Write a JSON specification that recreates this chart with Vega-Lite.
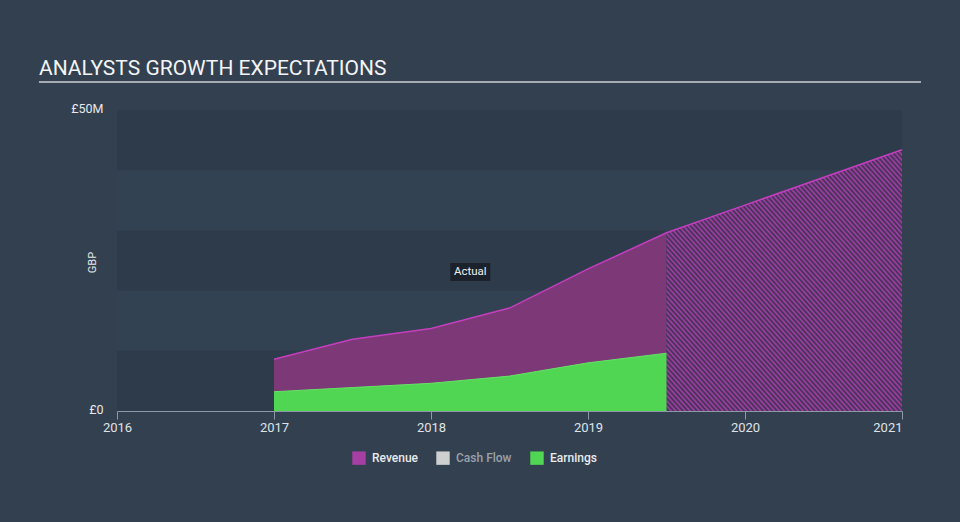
{
  "$schema": "https://vega.github.io/schema/vega-lite/v6.json",
  "width": 785,
  "height": 301,
  "autosize": "none",
  "padding": {"left": 117, "top": 110, "right": 58, "bottom": 111},
  "background": "#334050",
  "title": {
    "text": "ANALYSTS GROWTH EXPECTATIONS",
    "anchor": "start",
    "frame": "group",
    "dx": -78,
    "offset": -15,
    "baseline": "alphabetic",
    "font": "Roboto",
    "fontSize": 21,
    "fontWeight": "normal",
    "color": "#f2f4f6"
  },
  "config": {
    "font": "Roboto",
    "view": {"fill": "#2e3b4b", "stroke": null}
  },
  "datasets": {
    "fin": [
      {"year": 2017.0, "series": "Revenue", "phase": "actual", "value": 8.6},
      {"year": 2017.5, "series": "Revenue", "phase": "actual", "value": 11.9},
      {"year": 2018.0, "series": "Revenue", "phase": "actual", "value": 13.7},
      {"year": 2018.5, "series": "Revenue", "phase": "actual", "value": 17.1},
      {"year": 2019.0, "series": "Revenue", "phase": "actual", "value": 23.6},
      {"year": 2019.5, "series": "Revenue", "phase": "actual", "value": 29.6},
      {"year": 2019.5, "series": "Revenue", "phase": "forecast", "value": 29.6},
      {"year": 2020.0, "series": "Revenue", "phase": "forecast", "value": 34.2},
      {"year": 2021.0, "series": "Revenue", "phase": "forecast", "value": 43.4},
      {"year": 2017.0, "series": "Earnings", "phase": "actual", "value": 3.2},
      {"year": 2017.5, "series": "Earnings", "phase": "actual", "value": 3.9},
      {"year": 2018.0, "series": "Earnings", "phase": "actual", "value": 4.6},
      {"year": 2018.5, "series": "Earnings", "phase": "actual", "value": 5.8},
      {"year": 2019.0, "series": "Earnings", "phase": "actual", "value": 8.0},
      {"year": 2019.5, "series": "Earnings", "phase": "actual", "value": 9.6}
    ],
    "bands": [{"lo": 10, "hi": 20}, {"lo": 30, "hi": 40}],
    "notes": [{"label": "Actual", "year": 2018.25, "value": 23.1}]
  },
  "layer": [
    {
      "data": {"name": "bands"},
      "mark": {"type": "rect", "color": "#334252"},
      "encoding": {
        "y": {"field": "lo", "type": "quantitative", "scale": {"domain": [0, 50], "nice": false, "zero": true},
              "axis": {"title": "GBP", "values": [0, 50], "labelExpr": "datum.value == 0 ? '£0' : '£50M'", "domain": false, "ticks": false, "grid": false, "labelPadding": 14, "labelColor": "#e6e9ec", "labelFontSize": 12.5, "labelBaseline": "middle", "labelOffset": -2, "titleColor": "#e6e9ec", "titleFontSize": 11, "titleFontWeight": "normal", "titleX": -25, "titleY": 152, "titleAlign": "center", "titleBaseline": "middle", "titleAngle": -90}},
        "y2": {"field": "hi"}
      }
    },
    {
      "data": {"name": "fin"},
      "transform": [{"filter": "datum.series == 'Revenue' && datum.phase == 'actual'"}],
      "mark": {"type": "area", "color": "#7c3877", "opacity": 1},
      "encoding": {
        "x": {"field": "year", "type": "quantitative", "scale": {"domain": [2016, 2021], "nice": false, "zero": false},
              "axis": {"title": null, "values": [2016, 2017, 2018, 2019, 2020, 2021], "format": "d", "grid": false, "domainColor": "#8d99a6", "tickColor": "#8d99a6", "tickSize": 8, "labelPadding": 2, "labelColor": "#dfe3e7", "labelFontSize": 13,
                       "labelAlign": {"condition": {"test": "datum.value == 2021", "value": "right"}, "value": "center"}}},
        "y": {"field": "value", "type": "quantitative"}
      }
    },
    {
      "data": {"name": "fin"},
      "transform": [{"filter": "datum.series == 'Revenue' && datum.phase == 'forecast'"}],
      "mark": {
        "type": "area",
        "opacity": 1,
        "fill": {
          "gradient": "linear", "x1": 0, "y1": 1, "x2": 1, "y2": 0,
          "stops": [
            {"offset": 0, "color": "#a63fa8"}, {"offset": 0.005, "color": "#3b3150"},
            {"offset": 0.01, "color": "#a63fa8"}, {"offset": 0.015, "color": "#3b3150"},
            {"offset": 0.02, "color": "#a63fa8"}, {"offset": 0.025, "color": "#3b3150"},
            {"offset": 0.03, "color": "#a63fa8"}, {"offset": 0.035, "color": "#3b3150"},
            {"offset": 0.04, "color": "#a63fa8"}, {"offset": 0.045, "color": "#3b3150"},
            {"offset": 0.05, "color": "#a63fa8"}, {"offset": 0.055, "color": "#3b3150"},
            {"offset": 0.06, "color": "#a63fa8"}, {"offset": 0.065, "color": "#3b3150"},
            {"offset": 0.07, "color": "#a63fa8"}, {"offset": 0.075, "color": "#3b3150"},
            {"offset": 0.08, "color": "#a63fa8"}, {"offset": 0.085, "color": "#3b3150"},
            {"offset": 0.09, "color": "#a63fa8"}, {"offset": 0.095, "color": "#3b3150"},
            {"offset": 0.10, "color": "#a63fa8"}, {"offset": 0.105, "color": "#3b3150"},
            {"offset": 0.11, "color": "#a63fa8"}, {"offset": 0.115, "color": "#3b3150"},
            {"offset": 0.12, "color": "#a63fa8"}, {"offset": 0.125, "color": "#3b3150"},
            {"offset": 0.13, "color": "#a63fa8"}, {"offset": 0.135, "color": "#3b3150"},
            {"offset": 0.14, "color": "#a63fa8"}, {"offset": 0.145, "color": "#3b3150"},
            {"offset": 0.15, "color": "#a63fa8"}, {"offset": 0.155, "color": "#3b3150"},
            {"offset": 0.16, "color": "#a63fa8"}, {"offset": 0.165, "color": "#3b3150"},
            {"offset": 0.17, "color": "#a63fa8"}, {"offset": 0.175, "color": "#3b3150"},
            {"offset": 0.18, "color": "#a63fa8"}, {"offset": 0.185, "color": "#3b3150"},
            {"offset": 0.19, "color": "#a63fa8"}, {"offset": 0.195, "color": "#3b3150"},
            {"offset": 0.20, "color": "#a63fa8"}, {"offset": 0.205, "color": "#3b3150"},
            {"offset": 0.21, "color": "#a63fa8"}, {"offset": 0.215, "color": "#3b3150"},
            {"offset": 0.22, "color": "#a63fa8"}, {"offset": 0.225, "color": "#3b3150"},
            {"offset": 0.23, "color": "#a63fa8"}, {"offset": 0.235, "color": "#3b3150"},
            {"offset": 0.24, "color": "#a63fa8"}, {"offset": 0.245, "color": "#3b3150"},
            {"offset": 0.25, "color": "#a63fa8"}, {"offset": 0.255, "color": "#3b3150"},
            {"offset": 0.26, "color": "#a63fa8"}, {"offset": 0.265, "color": "#3b3150"},
            {"offset": 0.27, "color": "#a63fa8"}, {"offset": 0.275, "color": "#3b3150"},
            {"offset": 0.28, "color": "#a63fa8"}, {"offset": 0.285, "color": "#3b3150"},
            {"offset": 0.29, "color": "#a63fa8"}, {"offset": 0.295, "color": "#3b3150"},
            {"offset": 0.30, "color": "#a63fa8"}, {"offset": 0.305, "color": "#3b3150"},
            {"offset": 0.31, "color": "#a63fa8"}, {"offset": 0.315, "color": "#3b3150"},
            {"offset": 0.32, "color": "#a63fa8"}, {"offset": 0.325, "color": "#3b3150"},
            {"offset": 0.33, "color": "#a63fa8"}, {"offset": 0.335, "color": "#3b3150"},
            {"offset": 0.34, "color": "#a63fa8"}, {"offset": 0.345, "color": "#3b3150"},
            {"offset": 0.35, "color": "#a63fa8"}, {"offset": 0.355, "color": "#3b3150"},
            {"offset": 0.36, "color": "#a63fa8"}, {"offset": 0.365, "color": "#3b3150"},
            {"offset": 0.37, "color": "#a63fa8"}, {"offset": 0.375, "color": "#3b3150"},
            {"offset": 0.38, "color": "#a63fa8"}, {"offset": 0.385, "color": "#3b3150"},
            {"offset": 0.39, "color": "#a63fa8"}, {"offset": 0.395, "color": "#3b3150"},
            {"offset": 0.40, "color": "#a63fa8"}, {"offset": 0.405, "color": "#3b3150"},
            {"offset": 0.41, "color": "#a63fa8"}, {"offset": 0.415, "color": "#3b3150"},
            {"offset": 0.42, "color": "#a63fa8"}, {"offset": 0.425, "color": "#3b3150"},
            {"offset": 0.43, "color": "#a63fa8"}, {"offset": 0.435, "color": "#3b3150"},
            {"offset": 0.44, "color": "#a63fa8"}, {"offset": 0.445, "color": "#3b3150"},
            {"offset": 0.45, "color": "#a63fa8"}, {"offset": 0.455, "color": "#3b3150"},
            {"offset": 0.46, "color": "#a63fa8"}, {"offset": 0.465, "color": "#3b3150"},
            {"offset": 0.47, "color": "#a63fa8"}, {"offset": 0.475, "color": "#3b3150"},
            {"offset": 0.48, "color": "#a63fa8"}, {"offset": 0.485, "color": "#3b3150"},
            {"offset": 0.49, "color": "#a63fa8"}, {"offset": 0.495, "color": "#3b3150"},
            {"offset": 0.50, "color": "#a63fa8"}, {"offset": 0.505, "color": "#3b3150"},
            {"offset": 0.51, "color": "#a63fa8"}, {"offset": 0.515, "color": "#3b3150"},
            {"offset": 0.52, "color": "#a63fa8"}, {"offset": 0.525, "color": "#3b3150"},
            {"offset": 0.53, "color": "#a63fa8"}, {"offset": 0.535, "color": "#3b3150"},
            {"offset": 0.54, "color": "#a63fa8"}, {"offset": 0.545, "color": "#3b3150"},
            {"offset": 0.55, "color": "#a63fa8"}, {"offset": 0.555, "color": "#3b3150"},
            {"offset": 0.56, "color": "#a63fa8"}, {"offset": 0.565, "color": "#3b3150"},
            {"offset": 0.57, "color": "#a63fa8"}, {"offset": 0.575, "color": "#3b3150"},
            {"offset": 0.58, "color": "#a63fa8"}, {"offset": 0.585, "color": "#3b3150"},
            {"offset": 0.59, "color": "#a63fa8"}, {"offset": 0.595, "color": "#3b3150"},
            {"offset": 0.60, "color": "#a63fa8"}, {"offset": 0.605, "color": "#3b3150"},
            {"offset": 0.61, "color": "#a63fa8"}, {"offset": 0.615, "color": "#3b3150"},
            {"offset": 0.62, "color": "#a63fa8"}, {"offset": 0.625, "color": "#3b3150"},
            {"offset": 0.63, "color": "#a63fa8"}, {"offset": 0.635, "color": "#3b3150"},
            {"offset": 0.64, "color": "#a63fa8"}, {"offset": 0.645, "color": "#3b3150"},
            {"offset": 0.65, "color": "#a63fa8"}, {"offset": 0.655, "color": "#3b3150"},
            {"offset": 0.66, "color": "#a63fa8"}, {"offset": 0.665, "color": "#3b3150"},
            {"offset": 0.67, "color": "#a63fa8"}, {"offset": 0.675, "color": "#3b3150"},
            {"offset": 0.68, "color": "#a63fa8"}, {"offset": 0.685, "color": "#3b3150"},
            {"offset": 0.69, "color": "#a63fa8"}, {"offset": 0.695, "color": "#3b3150"},
            {"offset": 0.70, "color": "#a63fa8"}, {"offset": 0.705, "color": "#3b3150"},
            {"offset": 0.71, "color": "#a63fa8"}, {"offset": 0.715, "color": "#3b3150"},
            {"offset": 0.72, "color": "#a63fa8"}, {"offset": 0.725, "color": "#3b3150"},
            {"offset": 0.73, "color": "#a63fa8"}, {"offset": 0.735, "color": "#3b3150"},
            {"offset": 0.74, "color": "#a63fa8"}, {"offset": 0.745, "color": "#3b3150"},
            {"offset": 0.75, "color": "#a63fa8"}, {"offset": 0.755, "color": "#3b3150"},
            {"offset": 0.76, "color": "#a63fa8"}, {"offset": 0.765, "color": "#3b3150"},
            {"offset": 0.77, "color": "#a63fa8"}, {"offset": 0.775, "color": "#3b3150"},
            {"offset": 0.78, "color": "#a63fa8"}, {"offset": 0.785, "color": "#3b3150"},
            {"offset": 0.79, "color": "#a63fa8"}, {"offset": 0.795, "color": "#3b3150"},
            {"offset": 0.80, "color": "#a63fa8"}, {"offset": 0.805, "color": "#3b3150"},
            {"offset": 0.81, "color": "#a63fa8"}, {"offset": 0.815, "color": "#3b3150"},
            {"offset": 0.82, "color": "#a63fa8"}, {"offset": 0.825, "color": "#3b3150"},
            {"offset": 0.83, "color": "#a63fa8"}, {"offset": 0.835, "color": "#3b3150"},
            {"offset": 0.84, "color": "#a63fa8"}, {"offset": 0.845, "color": "#3b3150"},
            {"offset": 0.85, "color": "#a63fa8"}, {"offset": 0.855, "color": "#3b3150"},
            {"offset": 0.86, "color": "#a63fa8"}, {"offset": 0.865, "color": "#3b3150"},
            {"offset": 0.87, "color": "#a63fa8"}, {"offset": 0.875, "color": "#3b3150"},
            {"offset": 0.88, "color": "#a63fa8"}, {"offset": 0.885, "color": "#3b3150"},
            {"offset": 0.89, "color": "#a63fa8"}, {"offset": 0.895, "color": "#3b3150"},
            {"offset": 0.90, "color": "#a63fa8"}, {"offset": 0.905, "color": "#3b3150"},
            {"offset": 0.91, "color": "#a63fa8"}, {"offset": 0.915, "color": "#3b3150"},
            {"offset": 0.92, "color": "#a63fa8"}, {"offset": 0.925, "color": "#3b3150"},
            {"offset": 0.93, "color": "#a63fa8"}, {"offset": 0.935, "color": "#3b3150"},
            {"offset": 0.94, "color": "#a63fa8"}, {"offset": 0.945, "color": "#3b3150"},
            {"offset": 0.95, "color": "#a63fa8"}, {"offset": 0.955, "color": "#3b3150"},
            {"offset": 0.96, "color": "#a63fa8"}, {"offset": 0.965, "color": "#3b3150"},
            {"offset": 0.97, "color": "#a63fa8"}, {"offset": 0.975, "color": "#3b3150"},
            {"offset": 0.98, "color": "#a63fa8"}, {"offset": 0.985, "color": "#3b3150"},
            {"offset": 0.99, "color": "#a63fa8"}, {"offset": 0.995, "color": "#3b3150"},
            {"offset": 1, "color": "#a63fa8"}
          ]
        }
      },
      "encoding": {
        "x": {"field": "year", "type": "quantitative"},
        "y": {"field": "value", "type": "quantitative"}
      }
    },
    {
      "data": {"name": "fin"},
      "transform": [{"filter": "datum.series == 'Earnings'"}],
      "mark": {"type": "area", "opacity": 1},
      "encoding": {
        "x": {"field": "year", "type": "quantitative"},
        "y": {"field": "value", "type": "quantitative"},
        "color": {
          "field": "series", "type": "nominal",
          "scale": {"domain": ["Revenue", "Cash Flow", "Earnings"], "range": ["#a63fa3", "#cfcfcf", "#51d653"]},
          "legend": {
            "title": null, "orient": "none", "legendX": 235, "legendY": 341, "direction": "horizontal",
            "symbolType": "square", "symbolSize": 180, "symbolStrokeWidth": 0, "symbolOpacity": 1,
            "labelFontSize": 12, "labelFontWeight": 500, "labelOffset": 6, "columnPadding": 18,
            "labelColor": "#e8ebee",
            "encode": {"labels": {"update": {"fill": {"signal": "datum.label == 'Cash Flow' ? '#9aa1aa' : '#e8ebee'"}}}}
          }
        }
      }
    },
    {
      "data": {"name": "fin"},
      "transform": [{"filter": "datum.series == 'Revenue' && !(datum.phase == 'forecast' && datum.year == 2019.5)"}],
      "mark": {"type": "line", "color": "#c43fbf", "strokeWidth": 1.5},
      "encoding": {
        "x": {"field": "year", "type": "quantitative"},
        "y": {"field": "value", "type": "quantitative"}
      }
    },
    {
      "data": {"name": "fin"},
      "transform": [{"filter": "datum.series == 'Earnings'"}],
      "mark": {"type": "line", "color": "#66e266", "strokeWidth": 1},
      "encoding": {
        "x": {"field": "year", "type": "quantitative"},
        "y": {"field": "value", "type": "quantitative"}
      }
    },
    {
      "data": {"name": "notes"},
      "mark": {"type": "point", "shape": "M-1,-0.45L1,-0.45L1,0.45L-1,0.45Z", "filled": true, "size": 1600, "color": "#1b222c", "opacity": 1, "strokeWidth": 0},
      "encoding": {
        "x": {"field": "year", "type": "quantitative"},
        "y": {"field": "value", "type": "quantitative"}
      }
    },
    {
      "data": {"name": "notes"},
      "mark": {"type": "text", "color": "#eef0f2", "fontSize": 11.5, "align": "center", "baseline": "middle"},
      "encoding": {
        "x": {"field": "year", "type": "quantitative"},
        "y": {"field": "value", "type": "quantitative"},
        "text": {"field": "label"}
      }
    },
    {
      "data": {"values": [{}]},
      "mark": {"type": "rule", "color": "#a5abb3", "strokeWidth": 2},
      "encoding": {
        "x": {"datum": 2015.503, "type": "quantitative"},
        "x2": {"datum": 2021.121},
        "y": {"datum": 54.65, "type": "quantitative"}
      }
    }
  ]
}
